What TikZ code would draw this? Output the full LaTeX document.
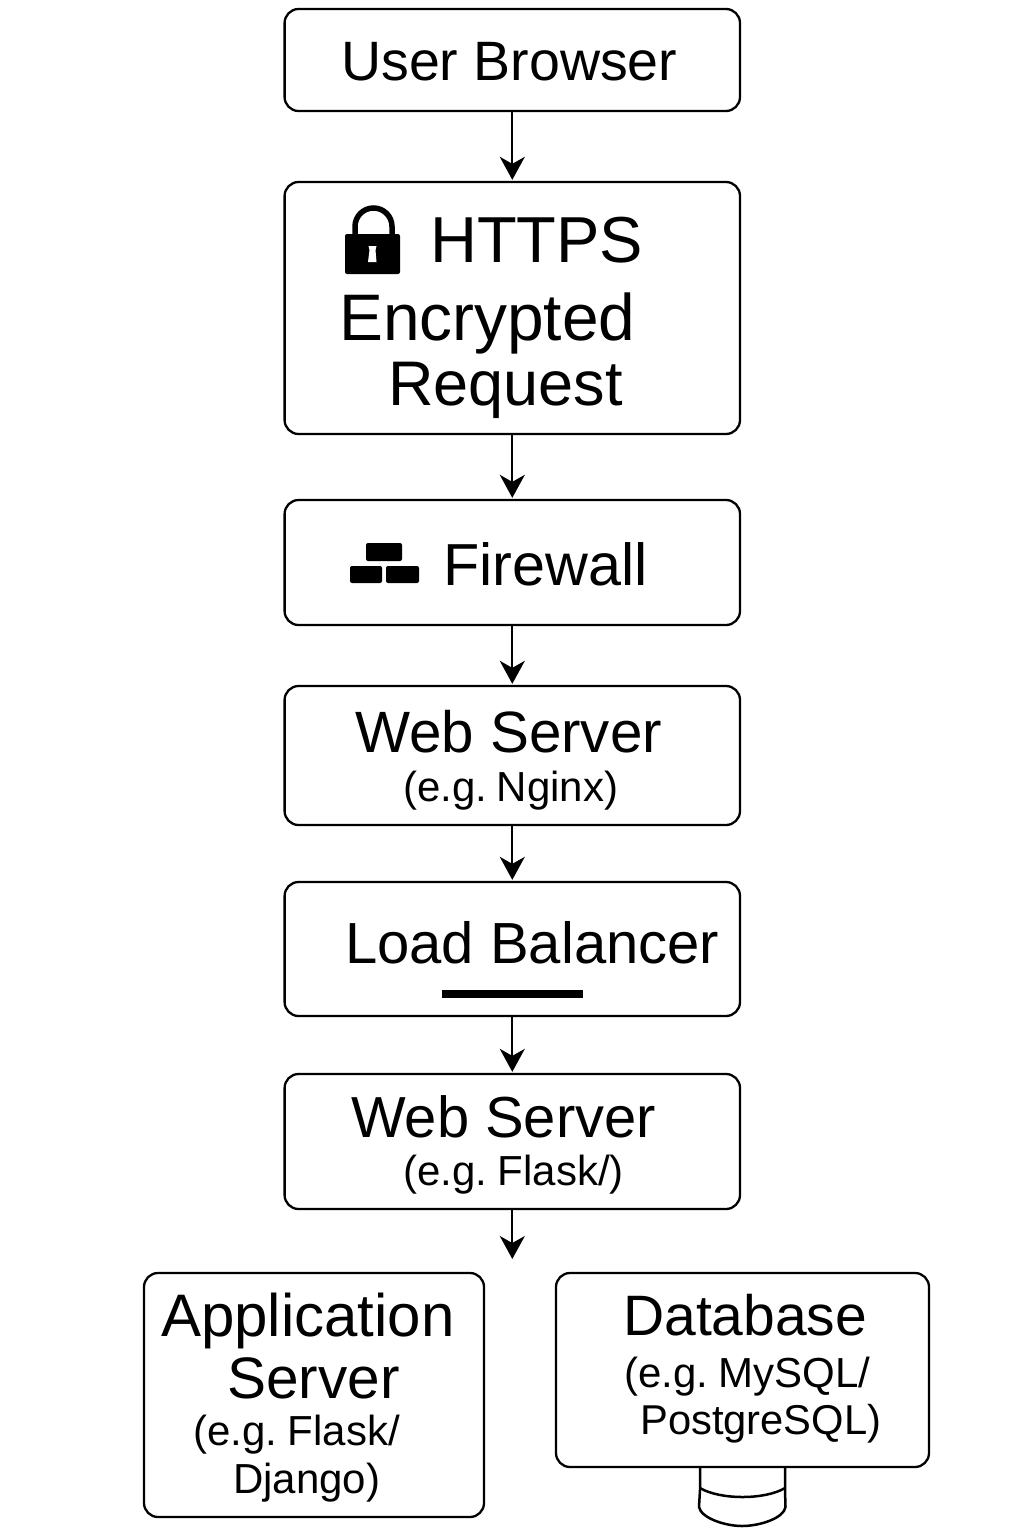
\documentclass[tikz,border=0pt]{standalone}
\usepackage{fontspec}
\setmainfont{Liberation Sans}
\usetikzlibrary{arrows.meta}
\tikzset{
  box/.style={draw=black,line width=2.3pt,rounded corners=14pt,inner sep=0pt,fill=white},
  lab/.style={anchor=base west,inner sep=0pt,text=black,font=\fontsize{#1pt}{#1pt}\selectfont},
  arr/.style={draw=black,line width=2.2pt,-{Stealth[length=23pt,width=25pt,inset=7pt]},shorten >=1pt},
  glyph/.style={fill=black,draw=none,rounded corners=2pt}
}
\begin{document}
\begin{tikzpicture}[x=1pt,y=-1pt]
\useasboundingbox (0,0) rectangle (1024,1536);
\fill[white] (0,0) rectangle (1024,1536);

% cylinder behind the Database box
\draw[line width=2.5pt,fill=white,line join=round] (700,1460) -- (700,1490) -- (699,1507) .. controls (701,1518) and (725,1526) .. (742,1526) .. controls (760,1526) and (784,1518) .. (785.5,1507) -- (785,1490) -- (785,1460);
\draw[line width=2.5pt] (700,1488) .. controls (720,1500) and (765,1500) .. (785,1488);

% boxes
\node[box,minimum width=455.4pt,minimum height=102pt] (user) at (512.3,60) {};
\node[box,minimum width=455.4pt,minimum height=252pt] (https) at (512.3,308) {};
\node[box,minimum width=455.4pt,minimum height=125pt] (fw) at (512.3,562.5) {};
\node[box,minimum width=455.4pt,minimum height=139pt] (nginx) at (512.3,755.5) {};
\node[box,minimum width=455.4pt,minimum height=134pt] (lb) at (512.3,949) {};
\node[box,minimum width=455.4pt,minimum height=135pt] (flask) at (512.3,1141.5) {};
\node[box,minimum width=340pt,minimum height=244pt] (app) at (314,1395) {};
\node[box,minimum width=373pt,minimum height=194pt] (db) at (742.5,1370) {};
\coordinate (split) at (512.3,1260);

% connectors
\draw[arr] (user) -- (https);
\draw[arr] (https) -- (fw);
\draw[arr] (fw) -- (nginx);
\draw[arr] (nginx) -- (lb);
\draw[arr] (lb) -- (flask);
\draw[arr] (flask) -- (split);

% texts
\node[lab=55.5] (t1) at (341,81) {User Browser};
\node[lab=65] (t2) at (430,262) {HTTPS};
\node[lab=65.8] (t3) at (339,340) {Encrypted};
\node[lab=63] (t4) at (388,405) {Request};
\node[lab=59.3] (t5) at (443,585) {Firewall};
\node[lab=58.3] (t6) at (355,752) {Web Server};
\node[lab=42] (t7) at (403,801) {(e.g. \kern-6pt Nginx)};
\node[lab=58] (t8) at (345,963) {Load Balancer};
\node[lab=57.9] (t9) at (351,1137) {Web Server};
\node[lab=42] (t10) at (403,1185) {(e.g. \kern-5pt Flask/)};
\node[lab=60] (t11) at (161,1336) {Application};
\node[lab=58.5] (t12) at (227,1398) {Server};
\node[lab=42] (t13) at (193,1445) {(e.g. \kern-5pt Flask/};
\node[lab=42] (t14) at (233,1493) {Django)};
\node[lab=57] (t15) at (623,1335) {Database};
\node[lab=42] (t16) at (624,1387) {(e.g. \kern-5pt MySQL/};
\node[lab=41.7] (t17) at (640,1434) {PostgreSQL)};

% lock icon
\draw[line width=5.5pt] (355,240) -- (355,226.5) arc[start angle=180,end angle=360,radius=18.5] -- (392,240);
\fill[glyph] (345,234) rectangle (400,274);
\fill[white] (368.5,246) -- (376.5,246) -- (375.5,250) -- (376.5,262) -- (368,262) -- (369.5,250) -- cycle;

% firewall bricks
\fill[glyph] (366,543) rectangle (402,561);
\fill[glyph] (350,566) rectangle (382,583);
\fill[glyph] (386,566) rectangle (419,583);

% load balancer bar
\fill[black] (442,990) rectangle (583,998);
\end{tikzpicture}
\end{document}
